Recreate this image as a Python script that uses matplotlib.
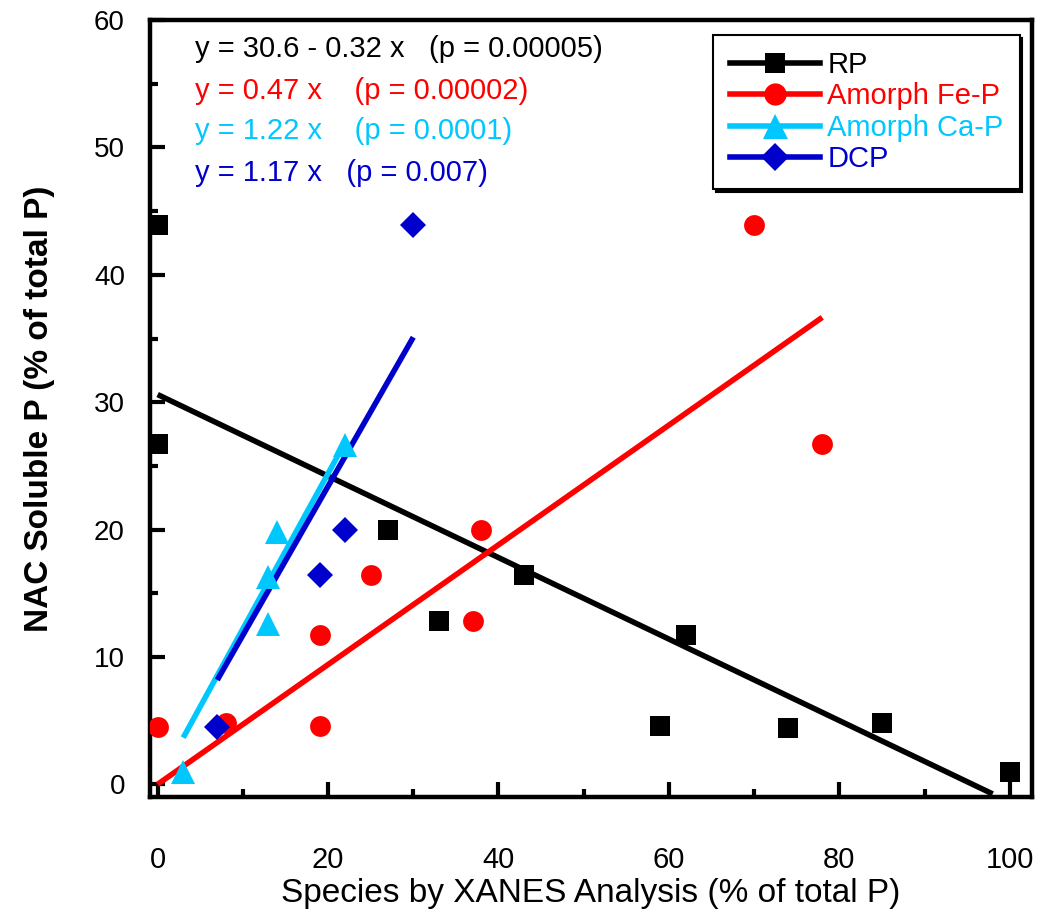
import numpy as np
import matplotlib
matplotlib.use("Agg")
import matplotlib.pyplot as plt
from matplotlib.lines import Line2D
from matplotlib.ticker import MultipleLocator

plt.rcParams["font.family"] = ["Liberation Sans", "DejaVu Sans"]

# ---------- DATA ----------
rp_x = [0, 0, 27, 33, 43, 59, 62, 74, 85, 100]
rp_y = [43.9, 26.7, 20.0, 12.8, 16.4, 4.6, 11.7, 4.4, 4.8, 1.0]

fe_x = [0, 8, 19, 19, 25, 37, 38, 70, 78]
fe_y = [4.5, 4.8, 4.6, 11.7, 16.4, 12.8, 20.0, 43.9, 26.7]

ca_x = [3, 13, 13, 14, 22]
ca_y = [1.0, 12.6, 16.3, 19.8, 26.6]

dcp_x = [7, 19, 22, 30]
dcp_y = [4.5, 16.4, 20.0, 43.9]

# regression: (intercept, slope, x range of the drawn line)
rp_fit = (30.6, -0.32, (0, 98))
fe_fit = (0.0, 0.47, (0, 78))
ca_fit = (0.0, 1.22, (3, 22))
dcp_fit = (0.0, 1.17, (7, 30))

labels = ["RP", "Amorph Fe-P", "Amorph Ca-P", "DCP"]
equations = [
    "y = 30.6 - 0.32 x   (p = 0.00005)",
    "y = 0.47 x    (p = 0.00002)",
    "y = 1.22 x    (p = 0.0001)",
    "y = 1.17 x   (p = 0.007)",
]
# ---------------------------

colors = ["black", "#ff0000", "#00c8ff", "#0000cc"]
markers = ["s", "o", "^", "D"]
msizes = [14, 15, 17, 13]

series = [
    (rp_x, rp_y, rp_fit),
    (fe_x, fe_y, fe_fit),
    (ca_x, ca_y, ca_fit),
    (dcp_x, dcp_y, dcp_fit),
]

fig = plt.figure(figsize=(10.4, 9.14), dpi=100)
ax = fig.add_axes([0.1442, 0.128, 0.848, 0.85])

handles = []
for (xs, ys, fit), c, m, ms, lab in zip(series, colors, markers, msizes, labels):
    b, k, (x0, x1) = fit
    xl = np.array([x0, x1], dtype=float)
    ax.plot(xl, b + k * xl, color=c, lw=4.0, solid_capstyle="butt", zorder=2)
    ax.plot(xs, ys, linestyle="none", marker=m, ms=ms, color=c,
            markeredgewidth=0, zorder=3)
    handles.append(Line2D([], [], color=c, lw=4.0, marker=m, ms=ms + 1,
                          markeredgewidth=0, label=lab))

ax.set_xlim(-0.9, 102.6)
ax.set_ylim(-1, 60)

ax.xaxis.set_major_locator(MultipleLocator(20))
ax.xaxis.set_minor_locator(MultipleLocator(10))
ax.yaxis.set_major_locator(MultipleLocator(10))
ax.yaxis.set_minor_locator(MultipleLocator(5))
ax.tick_params(which="both", direction="in", width=3, top=False, right=False)
ax.tick_params(which="major", length=11)
ax.tick_params(which="minor", length=5.5)
ax.tick_params(axis="x", which="major", labelsize=21, pad=35)
ax.tick_params(axis="y", which="major", labelsize=20, pad=18)
for sp in ax.spines.values():
    sp.set_linewidth(3.2)

ax.set_xlabel("Species by XANES Analysis (% of total P)", fontsize=24, labelpad=3)
ax.set_ylabel("NAC Soluble P (% of total P)", fontsize=24, fontweight="bold", labelpad=28)

eq_y = [57.7, 54.4, 51.3, 48.0]
for txt, yy, c in zip(equations, eq_y, colors):
    ax.text(4.4, yy, txt, color=c, fontsize=21, va="center", ha="left")

leg = ax.legend(handles=handles, loc="upper right", bbox_to_anchor=(0.986, 0.981),
                borderaxespad=0, fontsize=21, handlelength=3.1, handletextpad=0.25,
                labelspacing=0.12, borderpad=0.55, fancybox=False,
                shadow={"color": "black", "alpha": 1.0})
leg.get_frame().set_edgecolor("black")
leg.get_frame().set_linewidth(1.5)
for t, c in zip(leg.get_texts(), colors):
    t.set_color(c)

fig.savefig("out.png", dpi=100)
